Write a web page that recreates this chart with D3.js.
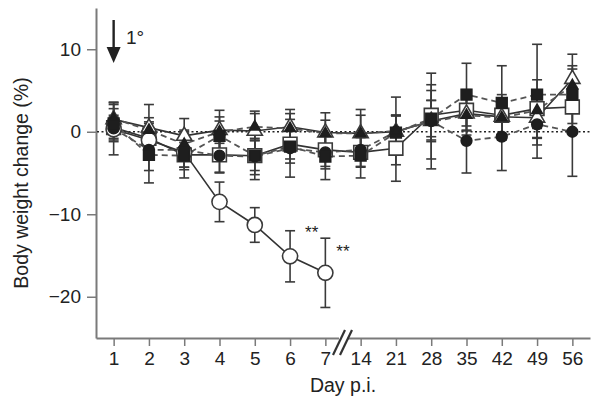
<!DOCTYPE html>
<html>
<head>
<meta charset="utf-8">
<script src="https://cdn.jsdelivr.net/npm/d3@7/dist/d3.min.js"></script>
<style>
  html, body { margin: 0; padding: 0; background: #fff; }
  svg { display: block; }
  text { font-family: "Liberation Sans", Arial, Helvetica, sans-serif; fill: #222; }
</style>
</head>
<body>
<svg id="chart" width="600" height="412"></svg>
<script>
// ---- data ----
const days = ["1", "2", "3", "4", "5", "6", "7", "14", "21", "28", "35", "42", "49", "56"];
const yTicks = [-20, -10, 0, 10];

const openCircleVals  = [0.3, -1.0, -2.5, -8.5, -11.3, -15.1, -17.1];
const openCircleErr   = [1.5, 2.0, 1.8, 2.4, 2.1, 3.1, 4.2];

const openSquareVals  = [0.5, -0.8, -2.8, -2.8, -2.9, -1.5, -2.2, -2.5, -2.0, 2.0, 2.6, 2.0, 2.8, 3.0];
const openSquareErr   = [1.5, 2.0, 1.5, 2.2, 1.8, 1.8, 2.0, 1.8, 4.0, 3.0, 2.5, 2.5, 3.5, 3.0];

const openTriVals     = [1.5, 0.5, -0.5, 0.2, 0.1, 0.6, -0.1, -0.2, 0.0, 1.3, 2.2, 1.8, 1.7, 6.4];
const openTriErr      = [1.8, 2.8, 2.1, 1.6, 2.4, 2.1, 2.4, 2.2, 2.0, 2.5, 2.0, 2.2, 2.5, 3.0];

const filledSquareVals = [1.0, -2.8, -2.9, -0.5, -2.9, -1.8, -3.0, -2.9, -0.1, 1.6, 4.5, 3.5, 4.5, 4.5];
const filledSquareErr  = [1.8, 3.4, 2.7, 1.8, 2.9, 2.0, 2.8, 2.7, 2.0, 2.2, 3.8, 4.5, 6.1, 3.5];

const filledCircleVals = [0.4, -2.2, -2.2, -2.9, -3.0, -2.0, -2.5, -2.2, 0.0, 1.3, -1.1, -0.6, 0.9, 0.0];
const filledCircleErr  = [3.2, 2.5, 2.4, 2.0, 2.2, 3.5, 2.0, 2.0, 2.0, 5.8, 3.9, 4.1, 4.1, 5.4];

const filledTriVals    = [1.6, 0.2, -1.5, 0.0, 0.6, 0.4, -0.2, -0.2, 0.1, 1.2, 2.0, 1.7, 2.6, 5.6];
const filledTriErr     = [1.9, 1.5, 1.5, 2.6, 1.6, 1.8, 1.6, 2.9, 4.1, 4.5, 2.4, 2.0, 2.2, 2.0];

const series = [
  { vals: openSquareVals,   err: openSquareErr,   shape: d3.symbolSquare,   filled: false, size: 190 },
  { vals: openTriVals,      err: openTriErr,      shape: d3.symbolTriangle, filled: false, size: 100 },
  { vals: openCircleVals,   err: openCircleErr,   shape: d3.symbolCircle,   filled: false, size: 180 },
  { vals: filledCircleVals, err: filledCircleErr, shape: d3.symbolCircle,   filled: true,  size: 90 },
  { vals: filledSquareVals, err: filledSquareErr, shape: d3.symbolSquare,   filled: true,  size: 115 },
  { vals: filledTriVals,    err: filledTriErr,    shape: d3.symbolTriangle, filled: true,  size: 48 }
];

// ---- chart ----
const svg = d3.select("#chart");
const x = d3.scalePoint().domain(days).range([96, 590]).padding(0.5);
const y = d3.scaleLinear().domain([-25, 15]).range([338, 8]);

// axes
const yAxis = svg.append("g").attr("transform", "translate(96,0)")
  .call(d3.axisLeft(y).tickValues(yTicks).tickSize(9).tickSizeOuter(0).tickPadding(6));
const xAxis = svg.append("g").attr("transform", "translate(0,338)")
  .call(d3.axisBottom(x).tickSize(8).tickSizeOuter(0).tickPadding(6));
[yAxis, xAxis].forEach(g => {
  g.selectAll(".domain").attr("stroke", "#7a7a7a").attr("stroke-width", 2);
  g.selectAll(".tick line").attr("stroke", "#7a7a7a").attr("stroke-width", 1.5);
  g.selectAll(".tick text").style("font-size", "19px").attr("fill", "#222");
});

// axis break
const bx = (x("7") + x("14")) / 2;
svg.append("rect").attr("x", bx - 4).attr("y", 333).attr("width", 8).attr("height", 10).attr("fill", "#fff");
[-4, 3].forEach(o => {
  svg.append("line")
    .attr("x1", bx + o - 6).attr("y1", 355).attr("x2", bx + o + 6).attr("y2", 330)
    .attr("stroke", "#333").attr("stroke-width", 2.2);
});

// zero dotted line
svg.append("line")
  .attr("x1", 97).attr("x2", 590).attr("y1", y(0)).attr("y2", y(0))
  .attr("stroke", "#222").attr("stroke-width", 1.3).attr("stroke-dasharray", "2,2.5");

// axis titles
svg.append("text").attr("x", 343).attr("y", 392).attr("text-anchor", "middle")
  .style("font-size", "19.5px").text("Day p.i.");
svg.append("text").attr("transform", "translate(28,183) rotate(-90)").attr("text-anchor", "middle")
  .style("font-size", "19.5px").text("Body weight change (%)");

// error bars
const errG = svg.append("g");
series.forEach(s => {
  s.vals.forEach((v, i) => {
    const cx = x(days[i]);
    const e = s.err[i];
    const g = errG.append("g").attr("stroke", "#3a3a3a").attr("stroke-width", 1.6);
    g.append("line").attr("x1", cx).attr("x2", cx).attr("y1", y(v + e)).attr("y2", y(v - e));
    g.append("line").attr("x1", cx - 5).attr("x2", cx + 5).attr("y1", y(v + e)).attr("y2", y(v + e));
    g.append("line").attr("x1", cx - 5).attr("x2", cx + 5).attr("y1", y(v - e)).attr("y2", y(v - e));
  });
});

// lines
const line = d3.line().x((d, i) => x(days[i])).y(d => y(d));
series.forEach(s => {
  svg.append("path").datum(s.vals)
    .attr("d", line)
    .attr("fill", "none")
    .attr("stroke", s.filled ? "#555" : "#333")
    .attr("stroke-width", s.filled ? 1.8 : 1.6)
    .attr("stroke-dasharray", s.filled ? "6,4" : null);
});

// markers (open first, filled on top)
series.forEach(s => {
  svg.append("g").selectAll("path").data(s.vals).join("path")
    .attr("transform", (d, i) => `translate(${x(days[i])},${y(d)})`)
    .attr("d", d3.symbol().type(s.shape).size(s.size))
    .attr("fill", s.filled ? "#1e1e1e" : "#fff")
    .attr("stroke", s.filled ? "#1e1e1e" : "#3a3a3a")
    .attr("stroke-width", 1.6);
});

// significance marks
svg.append("text").attr("x", x("6") + 15).attr("y", y(-12.0) + 7).style("font-size", "17px").text("**");
svg.append("text").attr("x", x("7") + 11).attr("y", y(-14.3) + 7).style("font-size", "17px").text("**");

// infection arrow
const ax = x("1");
svg.append("line").attr("x1", ax).attr("x2", ax).attr("y1", 20).attr("y2", 50)
  .attr("stroke", "#222").attr("stroke-width", 2.4);
svg.append("path").attr("d", `M${ax - 7},47 L${ax + 7},47 L${ax},63 Z`).attr("fill", "#222");
svg.append("text").attr("x", 126).attr("y", 44).style("font-size", "19px").text("1°");
</script>
</body>
</html>
